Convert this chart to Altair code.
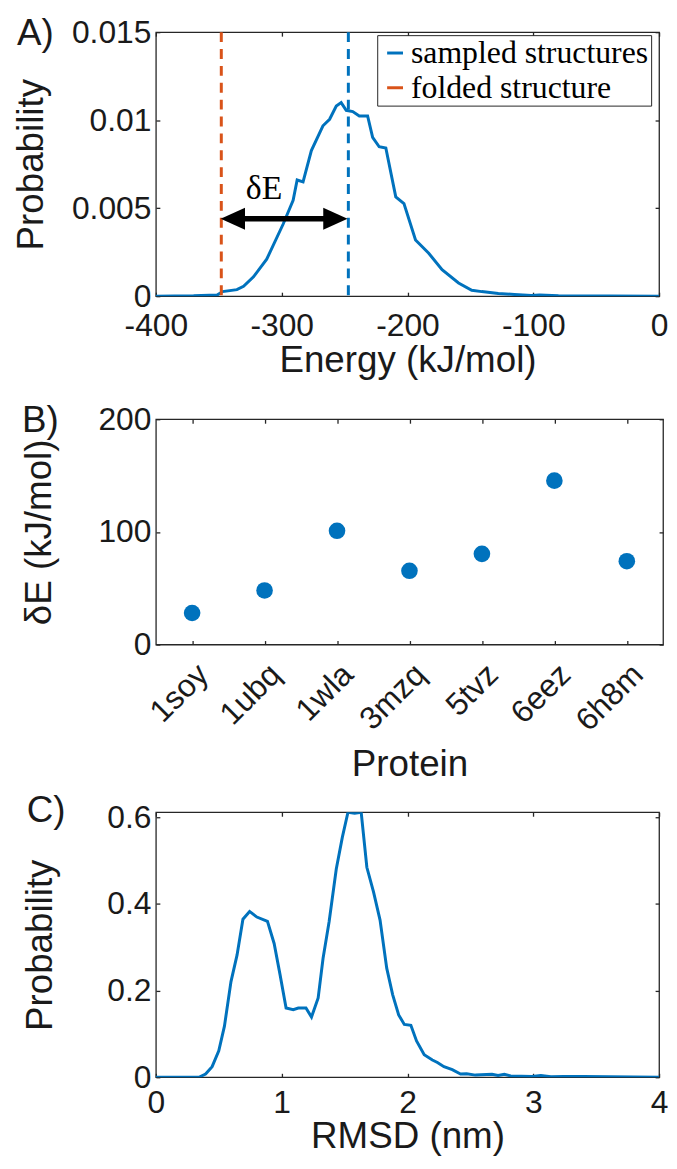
import altair as alt
import pandas as pd

BLUE = "#0072BD"
ORANGE = "#D95319"
FRAME = "#262626"
TEXT = "#1a1a1a"
SANS = "Liberation Sans"
SERIF = "Liberation Serif"

panel_labels = ["A)", "B)", "C)"]

# ---------------- Panel A data ----------------
energy = [-400, -370, -351.3, -347, -335.6, -330.3, -322.4, -311.9, -298.8, -290.9,
          -287.7, -283, -276.4, -267.2, -261.9, -256.6, -252.7, -248.7, -243.5,
          -238.3, -231.7, -227.7, -222.5, -217.2, -209.3, -202.8, -193.6, -183.1,
          -172.5, -159.4, -148.9, -141, -127.8, -115, -101.5, -95, -80, -40, 0]
energy_prob = [0, 0.00002, 0.00007, 0.00026, 0.00037, 0.00056, 0.0011, 0.0021, 0.0041,
               0.00545, 0.0066, 0.00649, 0.00827, 0.00968, 0.01005, 0.0108, 0.0110,
               0.01056, 0.01049, 0.01024, 0.01024, 0.00902, 0.00849, 0.00842, 0.00564,
               0.00526, 0.00319, 0.00244, 0.0015, 0.00075, 0.00034, 0.00026, 0.00015,
               0.0001, 0.00004, 0.00007, 0.00002, 0.00001, 0]
series_names = ["sampled structures", "folded structure"]
ref_energy = [-247, -348]
arrow_from = [-339]
arrow_to = [-257]
arrow_prob = [0.0044]
head_energy = [-338.8, -257.3]
head_prob = [0.0044, 0.0044]
head_shape = ["M -1 0 L 1 -0.9 L 1 0.9 Z", "M 1 0 L -1 -0.9 L -1 0.9 Z"]
delta_label = ["δE"]
delta_energy = [-314]
delta_prob = [0.0061]
energy_ticks = [-400, -300, -200, -100, 0]
prob_a_ticks = [0, 0.005, 0.01, 0.015]

# ---------------- Panel B data ----------------
proteins = ["1soy", "1ubq", "1wla", "3mzq", "5tvz", "6eez", "6h8m"]
delta_e = [28, 48, 101, 65.5, 80.5, 145.5, 74]
de_ticks = [0, 100, 200]

# ---------------- Panel C data ----------------
rmsd = [0, 0.342, 0.395, 0.447, 0.5, 0.545, 0.597, 0.645, 0.692, 0.745, 0.803, 0.887,
        0.94, 0.987, 1.035, 1.092, 1.132, 1.193, 1.237, 1.29, 1.329, 1.377, 1.434,
        1.482, 1.527, 1.58, 1.632, 1.677, 1.73, 1.782, 1.835, 1.882, 1.93, 1.975,
        2.027, 2.072, 2.133, 2.198, 2.238, 2.29, 2.356, 2.422, 2.47, 2.54, 2.672,
        2.72, 2.77, 2.82, 2.99, 3.06, 3.14, 3.24, 3.4, 4.0]
rmsd_prob = [0, 0, 0.0076, 0.0245, 0.061, 0.118, 0.221, 0.282, 0.365, 0.383, 0.370, 0.360,
             0.309, 0.237, 0.160, 0.156, 0.160, 0.160, 0.139, 0.183, 0.275, 0.359, 0.481,
             0.554, 0.612, 0.610, 0.612, 0.485, 0.428, 0.363, 0.252, 0.191, 0.144, 0.122,
             0.120, 0.084, 0.052, 0.040, 0.034, 0.0245, 0.0175, 0.0076, 0.008, 0.005,
             0.007, 0.004, 0.007, 0.003, 0.002, 0.004, 0.001, 0.002, 0.002, 0]
rmsd_ticks = [0, 1, 2, 3, 4]
prob_c_ticks = [0, 0.2, 0.4, 0.6]


def x_axis(title, values=None, **kw):
    args = dict(orient="bottom", title=title, offset=-4, tickSize=4, domain=False,
                grid=False, labelPadding=15, titlePadding=1, labelFlush=False,
                labelOverlap=False)
    if values is not None:
        args["values"] = values
    args.update(kw)
    return alt.Axis(**args)


def y_axis(title, values, title_x, **kw):
    args = dict(orient="left", title=title, values=values, offset=-4, tickSize=4,
                domain=False, grid=False, labelPadding=5, labelFlush=False,
                labelOverlap=False, titleX=title_x, titleBaseline="middle")
    args.update(kw)
    return alt.Axis(**args)


def top_axis(values=None):
    args = dict(orient="top", title=None, labels=False, offset=-4, tickSize=4,
                domain=False, grid=False)
    if values is not None:
        args["values"] = values
    return alt.Axis(**args)


def right_axis(values):
    return alt.Axis(orient="right", title=None, labels=False, values=values, offset=-4,
                    tickSize=4, domain=False, grid=False)


def panel_label(text, dx, dy):
    return alt.Chart(pd.DataFrame({"label": [text]})).mark_text(
        font=SANS, fontSize=37, align="left", baseline="middle", color=TEXT
    ).encode(x=alt.value(dx), y=alt.value(dy), text="label:N")


def spacer(h):
    return alt.Chart(pd.DataFrame({"s": [0]})).mark_point(opacity=0).encode(
        x=alt.value(0), y=alt.value(0)
    ).properties(width=507, height=h, view=alt.ViewBackground(stroke="transparent"))


# ---------------- Panel A ----------------
xs_a = alt.Scale(domain=[-400, 0], nice=False, zero=False)
ys_a = alt.Scale(domain=[0, 0.015], nice=False)
color_scale = alt.Scale(domain=series_names, range=[BLUE, ORANGE])

df_a = pd.DataFrame({"energy": energy, "prob": energy_prob, "series": series_names[0]})
curve_a = alt.Chart(df_a).mark_line(strokeWidth=3, clip=True).encode(
    x=alt.X("energy:Q", scale=xs_a,
            axis=x_axis("Energy (kJ/mol)", energy_ticks,
                        labelExpr="datum.value == 0 ? '0' : '-' + abs(datum.value)")),
    y=alt.Y("prob:Q", scale=ys_a,
            axis=y_axis("Probability", prob_a_ticks, -129,
                        labelExpr="datum.value == 0 ? '0' : format(datum.value, '.3~f')")),
    color=alt.Color("series:N", scale=color_scale,
                    legend=alt.Legend(orient="none", legendX=223, legendY=3, title=None,
                                      strokeColor=FRAME, fillColor="white", padding=2,
                                      labelFont=SERIF, labelFontSize=32, labelColor="black",
                                      labelLimit=600, symbolType="stroke",
                                      symbolStrokeWidth=3, symbolSize=256,
                                      labelOffset=0, rowPadding=3)),
)
ref_a = alt.Chart(pd.DataFrame({"energy": ref_energy, "series": series_names})).mark_rule(
    strokeWidth=3, strokeDash=[10, 7]
).encode(
    x=alt.X("energy:Q", scale=xs_a, axis=None),
    color=alt.Color("series:N", scale=color_scale, legend=None),
)
shaft_a = alt.Chart(pd.DataFrame({"e1": arrow_from, "e2": arrow_to, "p": arrow_prob})).mark_rule(
    strokeWidth=5.5, color="black"
).encode(
    x=alt.X("e1:Q", scale=xs_a, axis=top_axis(energy_ticks)),
    x2="e2:Q",
    y=alt.Y("p:Q", scale=ys_a, axis=right_axis(prob_a_ticks)),
)
heads_a = alt.Chart(pd.DataFrame({"e": head_energy, "p": head_prob, "shape": head_shape})).mark_point(
    filled=True, color="black", size=600, opacity=1, strokeWidth=0
).encode(
    x=alt.X("e:Q", scale=xs_a, axis=None),
    y=alt.Y("p:Q", scale=ys_a, axis=None),
    shape=alt.Shape("shape:N", scale=None),
)
delta_a = alt.Chart(pd.DataFrame({"label": delta_label, "e": delta_energy, "p": delta_prob})).mark_text(
    font=SERIF, fontSize=34, color="black"
).encode(
    x=alt.X("e:Q", scale=xs_a, axis=None),
    y=alt.Y("p:Q", scale=ys_a, axis=None),
    text="label:N",
)
chart_a = alt.layer(
    curve_a, ref_a, shaft_a, heads_a, delta_a, panel_label(panel_labels[0], -140, 2)
).resolve_axis(x="independent", y="independent").properties(width=507, height=266)

# ---------------- Panel B ----------------
df_b = pd.DataFrame({"protein": proteins, "de": delta_e})
xs_b = alt.Scale(type="point", padding=0.5, domain=proteins)
ys_b = alt.Scale(domain=[0, 200], nice=False)
points_b = alt.Chart(df_b).mark_circle(size=280, color=BLUE, opacity=1).encode(
    x=alt.X("protein:N", scale=xs_b, sort=proteins,
            axis=x_axis("Protein", labelAngle=-45, labelPadding=14, titlePadding=10)),
    y=alt.Y("de:Q", scale=ys_b, axis=y_axis("δE (kJ/mol)", de_ticks, -121)),
)
ticks_b = alt.Chart(df_b).mark_circle(size=227, opacity=0).encode(
    x=alt.X("protein:N", scale=xs_b, sort=proteins, axis=top_axis()),
    y=alt.Y("de:Q", scale=ys_b, axis=right_axis(de_ticks)),
)
chart_b = alt.layer(
    points_b, ticks_b, panel_label(panel_labels[1], -135, 2)
).resolve_axis(x="independent", y="independent").properties(width=511, height=227)

# ---------------- Panel C ----------------
df_c = pd.DataFrame({"rmsd": rmsd, "prob": rmsd_prob})
xs_c = alt.Scale(domain=[0, 4], nice=False)
ys_c = alt.Scale(domain=[0, 0.612], nice=False)
curve_c = alt.Chart(df_c).mark_line(strokeWidth=3, color=BLUE, clip=True).encode(
    x=alt.X("rmsd:Q", scale=xs_c,
            axis=x_axis("RMSD (nm)", rmsd_ticks, labelPadding=11, titlePadding=0)),
    y=alt.Y("prob:Q", scale=ys_c,
            axis=y_axis("Probability", prob_c_ticks, -120,
                        labelExpr="datum.value == 0 ? '0' : format(datum.value, '.1f')")),
)
ticks_c = alt.Chart(df_c).mark_line(opacity=0).encode(
    x=alt.X("rmsd:Q", scale=xs_c, axis=top_axis(rmsd_ticks)),
    y=alt.Y("prob:Q", scale=ys_c, axis=right_axis(prob_c_ticks)),
)
chart_c = alt.layer(
    curve_c, ticks_c, panel_label(panel_labels[2], -130, -1)
).resolve_axis(x="independent", y="independent").properties(width=507, height=267)

chart = alt.vconcat(
    chart_a, spacer(4), chart_b, spacer(49), chart_c, spacing=60, bounds="flush",
).properties(
    padding={"left": 4, "top": 2, "right": 0, "bottom": 0}
).configure_view(
    stroke=FRAME, strokeWidth=1.3
).configure_axis(
    labelFont=SANS, labelFontSize=32, labelColor=TEXT,
    titleFont=SANS, titleFontSize=37, titleFontWeight="normal", titleColor=TEXT,
    tickColor=FRAME, tickWidth=1.3,
)

chart.save("out.html", embed_options={"renderer": "svg", "actions": False})
